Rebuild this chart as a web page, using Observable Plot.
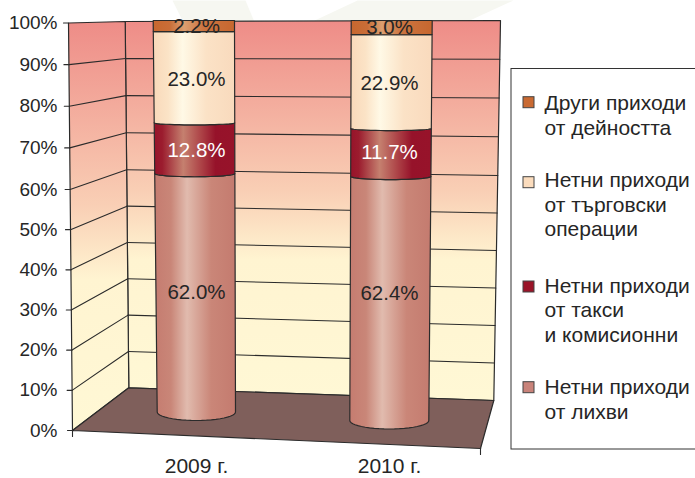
<!DOCTYPE html>
<html lang="bg">
<head>
<meta charset="utf-8">
<script src="https://cdn.jsdelivr.net/npm/d3@7"></script>
<script src="https://cdn.jsdelivr.net/npm/@observablehq/plot@0.6"></script>
<style>
html,body{margin:0;padding:0;background:#fff}
svg{display:block}
</style>
</head>
<body>
<div id="chart"></div>
<script>
// ---- data ----
const categories = ["2009 г.", "2010 г."];
const interest = [62.0, 62.4];
const fees = [12.8, 11.7];
const trading = [23.0, 22.9];
const other = [2.2, 3.0];
const percentTicks = [0, 10, 20, 30, 40, 50, 60, 70, 80, 90, 100];
const legendNames = [
  ["Други приходи", "от дейността"],
  ["Нетни приходи", "от търговски", "операции"],
  ["Нетни приходи", "от такси", "и комисионни"],
  ["Нетни приходи", "от лихви"]
];
const legendColors = ["#c96a32", "#fbdcbd", "#9a1428", "#c9837a"];

// ---- pseudo-3D camera: maps percent on each plane to the front-axis scale ----
const W = 695, H = 478;
const yFront = d3.scaleLinear().domain([0, 60, 100]).range([430, 189, 22.5]);
const u = (px) => yFront.invert(px);
const plane = (a, b, c) => {
  const s = d3.scaleLinear().domain([0, 60, 100]).range([a, b, c]);
  return (p) => u(s(p));
};
const lerp = (a, b, t) => a + (b - a) * t;
const frontX = (p) => lerp(72, 68, p / 100);
const backLX = (p) => lerp(128.3, 124.7, p / 100);
const backRX = (p) => lerp(493.3, 500, p / 100);
const backLY = plane(387.3, 169.3, 21);
const backRY = plane(400, 175, 20);
const floorNear = [480, u(448)];

const columns = [
  {c: 196, l: [156.7, 152.7], r: [235, 234], y: d3.scaleLinear().domain([0, 62, 97.8, 100]).range([411.5, 173, 31, 20])},
  {c: 389, l: [349.3, 350.7], r: [428.3, 431.7], y: d3.scaleLinear().domain([0, 62, 97, 100]).range([420, 177.5, 34, 20])}
];
const labelNudge = [[0, 2, 2, 0], [-5, 0, 2, 0]];

const segmentNames = ["interest", "fees", "trading", "other"];
const segmentValues = [interest, fees, trading, other];
const labelFill = ["#262626", "#fff", "#262626", "#262626"];

function arcPoints(col, v, reverse) {
  const yc = col.y(v);
  const depth = 8.5 * (1 - v / 100);
  const l = lerp(col.l[0], col.l[1], v / 100), r = lerp(col.r[0], col.r[1], v / 100);
  const pts = d3.range(0, 25).map((i) => {
    const a = Math.PI * i / 24;
    return [(l + r) / 2 - (r - l) / 2 * Math.cos(a), u(yc + depth * Math.sin(a))];
  });
  return reverse ? pts.reverse() : pts;
}

const stroke = "#2b2b2b";
const poly = (pts, fill, sw = 1.2) =>
  Plot.line([...pts, pts[0]], {x: "0", y: "1", fill, stroke, strokeWidth: sw, strokeLinejoin: "round"});
const seg = (a, b, w = 1.1) => Plot.line([a, b], {x: "0", y: "1", stroke, strokeWidth: w});
const shape = (pts, fill) => Plot.line([...pts, pts[0]], {x: "0", y: "1", fill});

// gradients
const defsMark = () => {
  const d = d3.create("svg:defs");
  const grad = (id, horizontal, stops) => {
    const g = d.append("linearGradient").attr("id", id)
      .attr("x1", 0).attr("y1", 0).attr("x2", horizontal ? 1 : 0).attr("y2", horizontal ? 0 : 1);
    stops.forEach(([o, c]) => g.append("stop").attr("offset", o).attr("stop-color", c));
  };
  grad("wall", false, [[0, "#ee8c87"], [0.45, "#f9cfb5"], [0.63, "#fff4d1"], [1, "#fff8d5"]]);
  grad("g-other", true, [[0, "#c7672f"], [0.2, "#c96d37"], [0.38, "#dc9f70"], [0.62, "#cc7440"], [1, "#c7672f"]]);
  grad("g-trading", true, [[0, "#f9d9ba"], [0.18, "#fbe3c6"], [0.36, "#fff9e6"], [0.65, "#fbe2c6"], [1, "#f9dabd"]]);
  grad("g-fees", true, [[0, "#97132a"], [0.1, "#9b1c2e"], [0.36, "#c5806f"], [0.58, "#ad4347"], [0.76, "#96122a"], [1, "#97132a"]]);
  grad("g-interest", true, [[0, "#c57c70"], [0.2, "#c98678"], [0.4, "#e1bbae"], [0.7, "#ca8678"], [1, "#c47b6f"]]);
  return d.node();
};

const marks = [defsMark];

// faint background shape behind the top of the chart
marks.push(shape([[172, u(0)], [184, u(24)], [255, u(24)], [245, u(0)]], "#f6f7f1"));
marks.push(shape([[357, u(0)], [310, u(22)], [465, u(22)], [513, u(0)]], "#f6f7f1"));

// walls and floor
marks.push(poly([[backLX(100), backLY(100)], [backRX(100), backRY(100)], [backRX(0), backRY(0)], [backLX(0), backLY(0)]], "url(#wall)"));
marks.push(poly([[frontX(100), 100], [backLX(100), backLY(100)], [backLX(0), backLY(0)], [frontX(0), 0]], "url(#wall)"));
marks.push(poly([[frontX(0), 0], [backLX(0), backLY(0)], [backRX(0), backRY(0)], floorNear], "#7f5f5b"));

// grid lines on the walls, ticks on the axes
for (const p of percentTicks) {
  if (p > 0 && p < 100) {
    marks.push(seg([frontX(p), p], [backLX(p), backLY(p)]));
    marks.push(seg([backLX(p), backLY(p)], [backRX(p), backRY(p)]));
  }
  marks.push(seg([frontX(p) - 5, p], [frontX(p), p]));
}
marks.push(seg([frontX(0), 0], [frontX(0), u(436)]));
marks.push(seg(floorNear, [floorNear[0], u(454)]));

// columns
columns.forEach((col, i) => {
  let base = 0;
  const stack = segmentValues.map((vals, k) => {
    const from = base; base += vals[i];
    return {k, from, to: base, value: vals[i]};
  });
  stack.forEach((s) => {
    const lower = arcPoints(col, s.from, false);
    const upper = arcPoints(col, s.to, true);
    marks.push(poly([...lower, ...upper], `url(#g-${segmentNames[s.k]})`));
  });
  marks.push(Plot.text(stack, {
    x: () => col.c,
    y: (s) => u(col.y((s.from + s.to) / 2) + labelNudge[i][s.k]),
    text: (s) => s.value.toFixed(1) + "%",
    fill: (s) => labelFill[s.k],
    fontSize: 20.5,
    fontFamily: "Liberation Sans"
  }));
});

// axes
marks.push(Plot.axisY({
  ticks: percentTicks, tickSize: 0, tickPadding: 11, label: null,
  tickFormat: (d) => d + "%", fontSize: 19, fontFamily: "Liberation Sans", fill: "#262626"
}));
marks.push(Plot.axisX({
  ticks: columns.map((c) => c.c), tickSize: 0, tickPadding: 28, label: null,
  tickFormat: (d, i) => categories[i], fontSize: 21, fontFamily: "Liberation Sans", fill: "#262626"
}));

// legend box
marks.push(Plot.rect([0], {x1: 511, x2: 702, y1: u(68.5), y2: u(449), fill: "#fff", stroke: "#333", strokeWidth: 1}));
const swatchTop = [96.7, 176.7, 281, 381.7];
const firstLine = [103, 180, 285.5, 387];
const lineStep = 24.4;
legendNames.forEach((lines, i) => {
  marks.push(Plot.rect([0], {x1: 523, x2: 534, y1: u(swatchTop[i]), y2: u(swatchTop[i] + 11), fill: legendColors[i], stroke: "#444", strokeWidth: 1}));
  marks.push(Plot.text(lines, {
    x: () => 544,
    y: (_, j) => u(firstLine[i] + j * lineStep),
    text: (d) => d,
    textAnchor: "start",
    fontSize: 21,
    fontFamily: "Liberation Sans",
    fill: "#262626"
  }));
});

const chart = Plot.plot({
  width: W, height: H,
  marginLeft: 68, marginRight: 0, marginTop: 22.5, marginBottom: 48,
  style: {background: "#fff", overflow: "hidden"},
  x: {type: "linear", domain: [0, W], range: [0, W]},
  y: {type: "linear", domain: yFront.domain(), range: yFront.range()},
  marks
});
document.getElementById("chart").append(chart);
</script>
</body>
</html>
